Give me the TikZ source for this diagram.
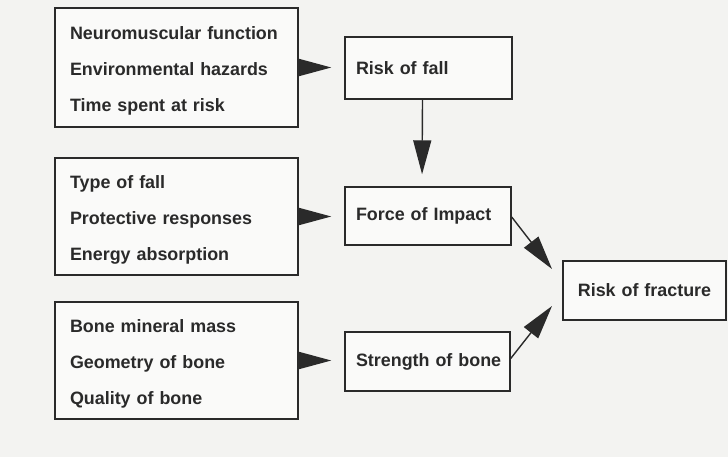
\documentclass[tikz,border=0pt]{standalone}
\usepackage{fontspec}
\setmainfont{Liberation Sans}
\usetikzlibrary{arrows.meta}
\definecolor{ink}{HTML}{2A2A2A}
\definecolor{paper}{HTML}{F3F3F1}
\newcommand{\firstline}{\rule{0pt}{19pt}}
\begin{document}
\begin{tikzpicture}[x=1pt,y=-1pt,
  every node/.style={font=\fontsize{17.9}{36}\selectfont\bfseries, text=ink},
  listbox/.style={draw=ink, line width=1.4pt, fill=white!60!paper, minimum width=243pt,
    text width=213pt, inner xsep=15pt, align=left, inner ysep=0pt},
  stepbox/.style={draw=ink, line width=1.4pt, fill=white!60!paper,
    inner xsep=11pt, inner ysep=0pt, align=left},
  bigtip/.style={draw=ink, line width=1.4pt,
    -{Triangle[length=34pt,width=18pt]}, ink},
]
\useasboundingbox[fill=paper] (0,0) rectangle (728,457);

\node[listbox, minimum height=119pt] (b1) at (176.5,67.5)
  {\firstline Neuromuscular function\\Environmental hazards\\Time spent at risk};
\node[listbox, minimum height=117pt] (b2) at (176.5,216.5)
  {\firstline Type of fall\\Protective responses\\Energy absorption};
\node[listbox, minimum height=117pt] (b3) at (176.5,360.5)
  {\firstline Bone mineral mass\\Geometry of bone\\Quality of bone};

\node[stepbox, text width=145pt, minimum height=62pt] (fall) at (428.5,68) {\mbox{Risk of fall}};
\node[stepbox, text width=144pt, minimum height=58pt] (force) at (428,216) {\mbox{Force of Impact}};
\node[stepbox, text width=143pt, minimum height=59pt] (strength) at (427.5,361.5) {\mbox{Strength of bone}};
\node[stepbox, text width=141pt, minimum height=59pt, align=center] (fracture) at (644.5,290.5) {\mbox{Risk of fracture}};

\coordinate (t1) at (552,269);
\coordinate (t2) at (552,306);

\draw[bigtip, shorten >=13pt] (b1.east) -- (fall.west |- b1.east);
\draw[bigtip, shorten >=13pt] (b2.east) -- (force.west |- b2.east);
\draw[bigtip, shorten >=13pt] (b3.east) -- (strength.west |- b3.east);
\draw[bigtip, shorten >=12pt] ([xshift=-6pt]fall.south) -- ([xshift=-6pt]force.north);
\draw[bigtip] ([yshift=-1pt]force.east) -- (t1);
\draw[bigtip] ([yshift=3pt]strength.east) -- (t2);
\end{tikzpicture}
\end{document}
